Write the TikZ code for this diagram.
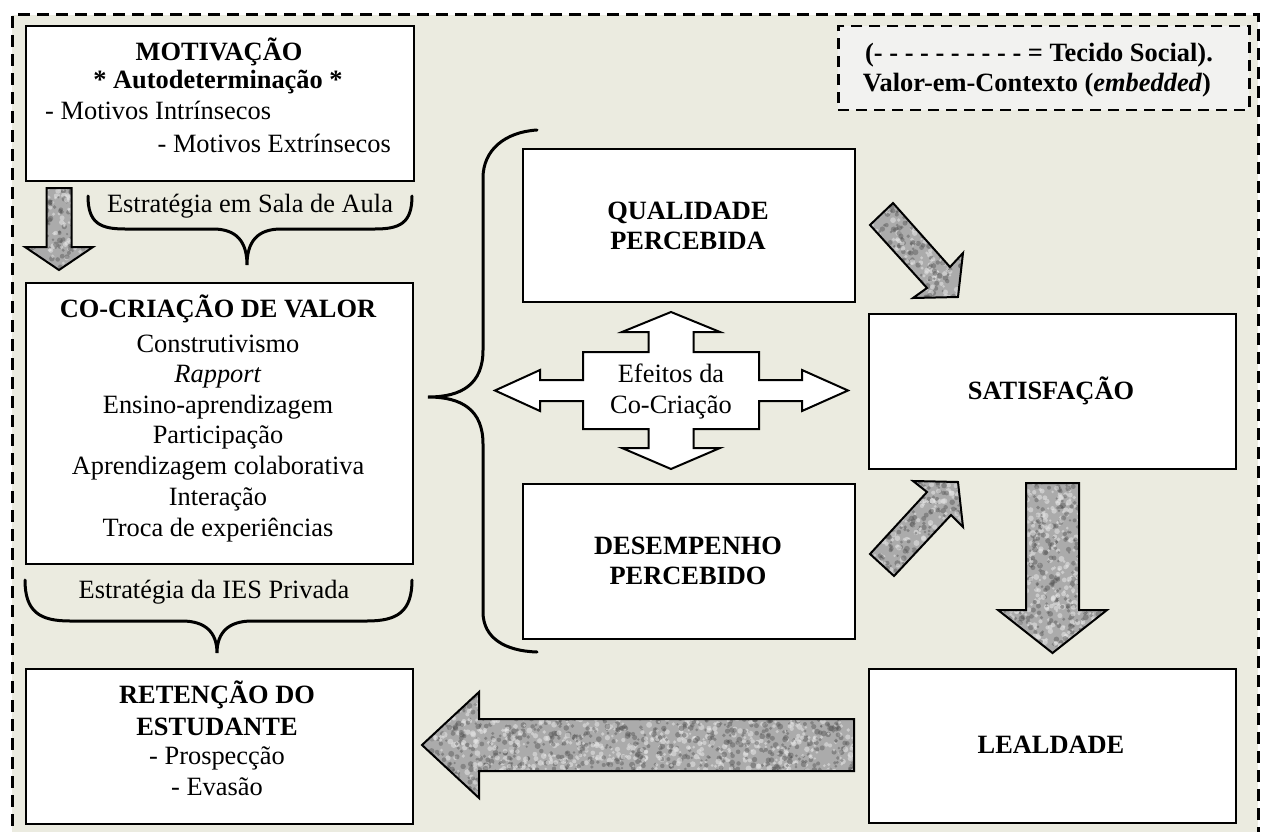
\documentclass[tikz,border=0pt]{standalone}
\usepackage{fontspec}
\setmainfont{Liberation Serif}
\definecolor{bgc}{HTML}{EBEBE0}
\definecolor{legc}{HTML}{F2F2F0}
\definecolor{nbase}{HTML}{ABABAB}
\definecolor{ndark}{HTML}{555555}
\definecolor{nlight}{HTML}{E6E6E6}
\tikzset{
  box/.style={draw=black, line width=2.2pt, fill=white, anchor=north west, inner sep=0pt},
  txt/.style={inner sep=0pt, font=\fontsize{26.4}{31}\selectfont},
  btxt/.style={inner sep=0pt, font=\fontsize{26.4}{31}\selectfont\bfseries},
  bracepath/.style={draw=black, line width=3pt, line cap=round},
  arrowline/.style={draw=black, line width=2pt, line join=miter},
  outerdash/.style={draw=black, line width=3pt, dash pattern=on 12pt off 7pt},
  legdash/.style={draw=black, line width=2.5pt, dash pattern=on 11pt off 7pt, fill=legc},
}
\newcommand\noisyarrow[6]{%
  \begin{scope}
    \clip #1;
    \fill[nbase] (#2,#3) rectangle ++(#4,#5);
    \foreach \k in {1,...,#6}{%
      \pgfmathsetmacro\px{#2+rnd*#4}%
      \pgfmathsetmacro\py{#3+rnd*#5}%
      \pgfmathsetmacro\pr{1.2+1.8*rnd}%
      \fill[ndark,opacity=0.45] (\px,\py) circle[radius=\pr pt];
      \pgfmathsetmacro\qx{#2+rnd*#4}%
      \pgfmathsetmacro\qy{#3+rnd*#5}%
      \fill[nlight,opacity=0.55] (\qx,\qy) circle[radius=\pr pt];
    }
  \end{scope}
  \draw[arrowline] #1;
}
\begin{document}
\begin{tikzpicture}[x=1pt,y=-1pt]
\pgfmathsetseed{42}
\useasboundingbox (0,0) rectangle (1263,832);
\fill[white] (0,0) rectangle (1263,832);
\fill[bgc] (12,15) rectangle (1258,845);
\draw[outerdash] (12,845) -- (12,15) -- (1258,15) -- (1258,845);

% legend
\node[box, legdash, minimum width=411pt, minimum height=84pt] (leg) at (837,25) {};
\node[btxt, anchor=base] (leg1) at (1039,62) {(- - - - - - - - - - = Tecido Social).};
\node[btxt, anchor=base] (leg2) at (1037,92) {Valor-em-Contexto (\textit{embedded})};

% boxes
\node[box, minimum width=388pt, minimum height=155pt] (mot) at (25,25) {};
\node[box, minimum width=387pt, minimum height=281pt] (co) at (25,282) {};
\node[box, minimum width=387pt, minimum height=155pt] (ret) at (25,668) {};
\node[box, minimum width=332pt, minimum height=153pt] (qual) at (522,148) {};
\node[box, minimum width=332pt, minimum height=155pt] (des) at (522,483) {};
\node[box, minimum width=367pt, minimum height=155pt] (sat) at (868,313) {};
\node[box, minimum width=367pt, minimum height=154pt] (leal) at (868,668) {};

% motivacao text
\node[btxt, anchor=base] (mot1) at (219,61) {MOTIVAÇÃO};
\node[btxt, anchor=base] (mot2) at (218,89) {* Autodeterminação *};
\node[txt, anchor=base west] (mot3) at (45,120) {- Motivos Intrínsecos};
\node[txt, anchor=base east] (mot4) at (391,152) {- Motivos Extrínsecos};

% co-criacao text
\node[btxt, anchor=base] (co1) at (218,317) {CO-CRIAÇÃO DE VALOR};
\node[txt, anchor=base] (co2) at (218,352) {Construtivismo};
\node[txt, anchor=base] (co3) at (218,382) {\textit{Rapport}};
\node[txt, anchor=base] (co4) at (218,413) {Ensino-aprendizagem};
\node[txt, anchor=base] (co5) at (218,443) {Participação};
\node[txt, anchor=base] (co6) at (218,474) {Aprendizagem colaborativa};
\node[txt, anchor=base] (co7) at (218,505) {Interação};
\node[txt, anchor=base] (co8) at (218,536) {Troca de experiências};

% retencao text
\node[btxt, anchor=base] (ret1) at (217,703) {RETENÇÃO DO};
\node[btxt, anchor=base] (ret2) at (217,735) {ESTUDANTE};
\node[txt, anchor=base] (ret3) at (217,764) {- Prospecção};
\node[txt, anchor=base] (ret4) at (217,795) {- Evasão};

% right texts
\node[btxt, anchor=base] (q1) at (688,219) {QUALIDADE};
\node[btxt, anchor=base] (q2) at (688,249) {PERCEBIDA};
\node[btxt, anchor=base] (d1) at (688,554) {DESEMPENHO};
\node[btxt, anchor=base] (d2) at (688,584) {PERCEBIDO};
\node[btxt, anchor=base] (s1) at (1051,399) {SATISFAÇÃO};
\node[btxt, anchor=base] (l1) at (1051,753) {LEALDADE};

% strategy labels
\node[txt, anchor=base] (est1) at (250,212) {Estratégia em Sala de Aula};
\node[txt, anchor=base] (est2) at (214,598) {Estratégia da IES Privada};

% braces
\draw[bracepath] (88,196) .. controls (88,223) and (100,229) .. (125,229) -- (213,229) .. controls (236,229) and (247,241) .. (247,265) .. controls (247,241) and (258,229) .. (281,229) -- (375,229) .. controls (400,229) and (412,223) .. (412,196);
\draw[bracepath] (25,580) .. controls (25,612) and (40,621) .. (70,621) -- (182,621) .. controls (205,621) and (217,632) .. (217,653) .. controls (217,632) and (229,621) .. (252,621) -- (367,621) .. controls (397,621) and (412,612) .. (412,580);
\draw[bracepath] (537,130) .. controls (505,132) and (483,150) .. (483,178) -- (483,350) .. controls (483,384) and (462,397) .. (428,397) .. controls (462,397) and (483,410) .. (483,444) -- (483,612) .. controls (483,638) and (505,651) .. (537,652);

% cross arrow (effects)
\draw[arrowline, fill=white] (495,390.5) -- (540,370) -- (540,380) -- (583,380) -- (583,352) -- (648.5,352) -- (648.5,332) -- (622,332) -- (671,312) -- (720,332) -- (693.5,332) -- (693.5,352) -- (759,352) -- (759,380) -- (802,380) -- (802,370) -- (848,390.5) -- (802,411) -- (802,401) -- (759,401) -- (759,429) -- (693.5,429) -- (693.5,448) -- (720,448) -- (671,469) -- (622,448) -- (648.5,448) -- (648.5,429) -- (583,429) -- (583,401) -- (540,401) -- (540,411) -- cycle;
\node[txt, anchor=base] (ef1) at (671,382) {Efeitos da};
\node[txt, anchor=base] (ef2) at (671,413) {Co-Criação};

% textured arrows
\noisyarrow{(46.5,188) -- (71.5,188) -- (71.5,247) -- (93,247) -- (59,270) -- (25,247) -- (46.5,247) -- cycle}{22}{185}{74}{88}{160}
\noisyarrow{(893,203) -- (950,267) -- (963,253) -- (958,297) -- (913,298) -- (927,288) -- (870,225) -- cycle}{866}{200}{100}{100}{220}
\noisyarrow{(870,554) -- (927,492) -- (913,481) -- (958,482) -- (963,527) -- (951,515) -- (894,576) -- cycle}{866}{478}{100}{100}{220}
\noisyarrow{(1026,483) -- (1079,483) -- (1079,610) -- (1107,610) -- (1052.5,653) -- (998,610) -- (1026,610) -- cycle}{995}{480}{115}{176}{480}
\noisyarrow{(854,719) -- (854,771) -- (479,771) -- (479,798) -- (422,745) -- (479,692) -- (479,719) -- cycle}{419}{689}{438}{112}{1150}
\end{tikzpicture}
\end{document}
